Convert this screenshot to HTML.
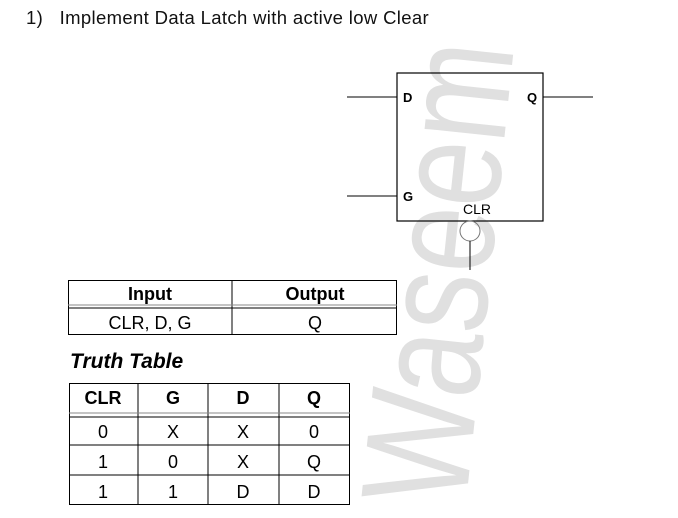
<!DOCTYPE html>
<html><head><meta charset="utf-8"><style>
body{margin:0;background:#fff;width:678px;height:518px;overflow:hidden;position:relative;font-family:"Liberation Sans",Arial,sans-serif}
.a{position:absolute}
</style></head><body>
<div class="a" style="left:438px;top:272px;width:0;height:0">
<div style="position:absolute;left:0;top:0;transform:translate(-50%,-50%) rotate(-84deg) scaleX(0.78);white-space:nowrap;font-size:152px;color:#e0e0e0;line-height:1">Waseem</div></div>
<div class="a" style="left:26px;top:7px;font-size:18.5px;color:#111;white-space:nowrap;letter-spacing:0.35px">1)&nbsp;&nbsp; Implement Data Latch with active low Clear</div>
<svg class="a" style="left:0;top:0" width="678" height="518">
<rect x="397" y="73" width="146" height="148" fill="none" stroke="#000" stroke-width="1.2"/>
<line x1="347" y1="97" x2="397" y2="97" stroke="#000"/>
<line x1="347" y1="196" x2="397" y2="196" stroke="#000"/>
<line x1="543" y1="97" x2="593" y2="97" stroke="#000"/>
<circle cx="470" cy="231" r="10" fill="none" stroke="#777"/>
<line x1="470" y1="241" x2="470" y2="270" stroke="#000"/>
<g font-family="Liberation Sans" font-size="13" font-weight="bold">
<text x="403" y="102">D</text>
<text x="527" y="102">Q</text>
<text x="403" y="201">G</text></g>
<text x="463" y="214" font-size="14" font-family="Liberation Sans">CLR</text>
<g font-family="Liberation Sans" font-size="18" text-anchor="middle">
<rect x="68.5" y="280.5" width="328" height="54" fill="none" stroke="#000"/>
<line x1="232" y1="280" x2="232" y2="335" stroke="#000"/>
<line x1="68" y1="305" x2="397" y2="305" stroke="#888"/>
<line x1="68" y1="308" x2="397" y2="308" stroke="#000"/>
<text x="150" y="300" font-weight="bold">Input</text>
<text x="315" y="300" font-weight="bold">Output</text>
<text x="150" y="329">CLR, D, G</text>
<text x="315" y="329">Q</text>
<text x="70" y="368" text-anchor="start" font-size="21" font-weight="bold" font-style="italic">Truth Table</text>
<rect x="69.5" y="383.5" width="280" height="121" fill="none" stroke="#000"/>
<line x1="138" y1="383" x2="138" y2="505" stroke="#000"/>
<line x1="208" y1="383" x2="208" y2="505" stroke="#000"/>
<line x1="279" y1="383" x2="279" y2="505" stroke="#000"/>
<line x1="69" y1="413" x2="350" y2="413" stroke="#888"/>
<line x1="69" y1="417" x2="350" y2="417" stroke="#000"/>
<line x1="69" y1="445" x2="350" y2="445" stroke="#000"/>
<line x1="69" y1="475" x2="350" y2="475" stroke="#000"/>
<g font-weight="bold"><text x="103" y="404">CLR</text><text x="173" y="404">G</text><text x="243" y="404">D</text><text x="314" y="404">Q</text></g>
<text x="103" y="438">0</text><text x="173" y="438">X</text><text x="243" y="438">X</text><text x="314" y="438">0</text>
<text x="103" y="468">1</text><text x="173" y="468">0</text><text x="243" y="468">X</text><text x="314" y="468">Q</text>
<text x="103" y="498">1</text><text x="173" y="498">1</text><text x="243" y="498">D</text><text x="314" y="498">D</text>
</g>
</svg>
</body></html>
